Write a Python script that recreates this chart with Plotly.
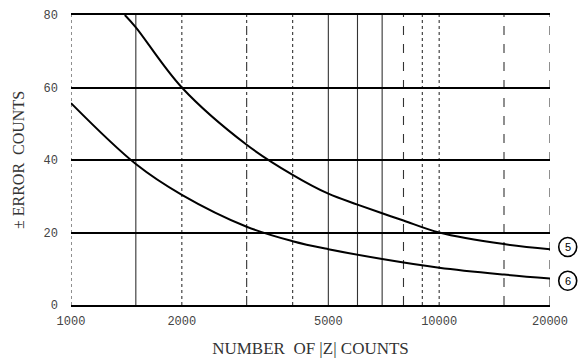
import plotly.graph_objects as go

# Counts of |Z| (log axis) and the ± error in counts for curves 5 and 6
counts_5 = [1400, 1500, 2000, 3000, 4000, 5000, 6000, 7000, 8000, 10000, 15000, 20000]
error_5 = [80.0, 76.6, 60.0, 44.2, 35.9, 30.7, 27.7, 25.3, 23.3, 20.0, 16.8, 15.4]

counts_6 = [1000, 1500, 2000, 3000, 4000, 5000, 7000, 10000, 15000, 20000]
error_6 = [55.7, 38.9, 30.4, 21.6, 17.6, 15.4, 12.7, 10.3, 8.4, 7.3]

curve_names = ["5", "6"]

x_tick_vals = [1000, 2000, 5000, 10000, 20000]
x_tick_text = ["1000", "2000", "5000", "10000", "20000"]
y_range = [0, 80]
y_tick_vals = [0, 20, 40, 60, 80]
y_tick_text = ["0", "20", "40", "60", "80"]

# vertical rulings of the log paper
grid_x = [1000, 1500, 2000, 3000, 4000, 5000, 6000, 7000, 8000, 9000, 10000, 15000, 20000]
grid_dash = ["dot", "solid", "dot", "dashdot", "dot", "solid", "solid", "solid",
             "dash", "dot", "dot", "dash", "dash"]

fig = go.Figure()

for gx, gd in zip(grid_x, grid_dash):
    fig.add_shape(type="line", xref="x", yref="y", x0=gx, x1=gx, y0=y_range[0], y1=y_range[1],
                  line=dict(color="#333", width=1.1, dash=gd), layer="below")

for xs, ys in ((counts_5, error_5), (counts_6, error_6)):
    fig.add_trace(go.Scatter(x=xs, y=ys, mode="lines",
                             line=dict(color="black", width=2, shape="spline", smoothing=1.0),
                             showlegend=False, hoverinfo="skip"))

# circled curve numbers just past the right edge, level with each curve's end
for name, yv in zip(curve_names, (error_5[-1] + 0.6, error_6[-1] - 0.6)):
    yp = (yv - y_range[0]) / (y_range[1] - y_range[0])
    fig.add_shape(type="circle", xref="paper", yref="paper", xsizemode="pixel", ysizemode="pixel",
                  xanchor=1.037, yanchor=yp, x0=-9, x1=9, y0=-9.5, y1=9.5,
                  line=dict(color="black", width=1.6))
    fig.add_annotation(xref="paper", yref="paper", x=1.037, y=yp, text=name, showarrow=False,
                       xanchor="center", yanchor="middle",
                       font=dict(family="Liberation Sans", size=11, color="black"))

tick_font = dict(family="Liberation Mono", size=12, color="#444")

fig.update_layout(
    width=587, height=364,
    margin=dict(l=71, r=37, t=9, b=58),
    paper_bgcolor="white", plot_bgcolor="white",
    xaxis=dict(type="log", range=[3, 4.30103], tickvals=x_tick_vals, ticktext=x_tick_text,
               showgrid=False, zeroline=False, showline=True, linecolor="black", linewidth=2,
               mirror=True, ticks="", tickfont=tick_font, ticklabelstandoff=4,
               title=dict(text="NUMBER  OF |Z| COUNTS", standoff=14,
                          font=dict(family="Liberation Serif", size=17, color="#333"))),
    yaxis=dict(range=y_range, tickvals=y_tick_vals, ticktext=y_tick_text,
               showgrid=True, gridcolor="black", gridwidth=2, zeroline=False,
               showline=False, ticks="", tickfont=tick_font, ticklabelstandoff=12,
               title=dict(text="± ERROR  COUNTS", standoff=14,
                          font=dict(family="Liberation Serif", size=16, color="#333"))),
)

fig.write_html("out.html")
